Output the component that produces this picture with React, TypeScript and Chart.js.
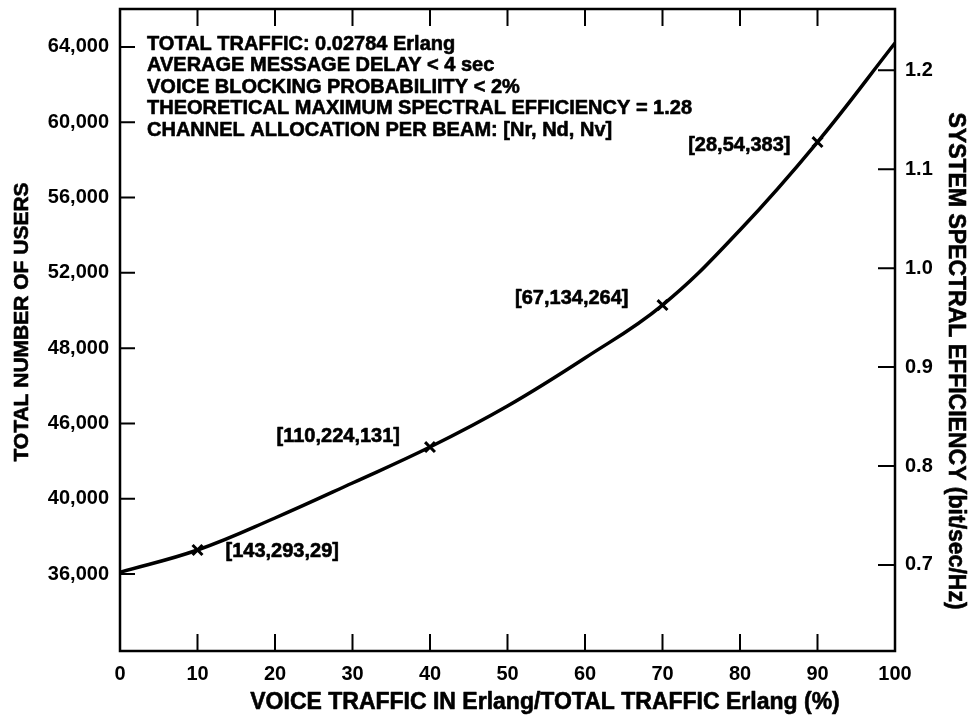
import { useEffect, useRef } from 'react';
import { Chart, registerables } from 'chart.js';

Chart.register(...registerables);

// ---- data ----
const voiceShare = [0, 10, 20, 30, 40, 50, 60, 70, 80, 90, 100];
const totalUsers = [36100, 37280, 38980, 40840, 42750, 44930, 47480, 50290, 54280, 58950, 64210];
const markedShares = [10, 40, 70, 90];
const allocationLabels = ['[143,293,29]', '[110,224,131]', '[67,134,264]', '[28,54,383]'];
const xTickValues = [0, 10, 20, 30, 40, 50, 60, 70, 80, 90, 100];
const userTickValues = [36000, 40000, 44000, 48000, 52000, 56000, 60000, 64000];
const userTickLabels = ['36,000', '40,000', '46,000', '48,000', '52,000', '56,000', '60,000', '64,000'];
const efficiencyTickValues = [0.7, 0.8, 0.9, 1.0, 1.1, 1.2];
const efficiencyTickLabels = ['0.7', '0.8', '0.9', '1.0', '1.1', '1.2'];
const xTitle = 'VOICE TRAFFIC IN Erlang/TOTAL TRAFFIC Erlang (%)';
const leftTitle = 'TOTAL NUMBER OF USERS';
const rightTitle = 'SYSTEM SPECTRAL EFFICIENCY (bit/sec/Hz)';
const infoLines = [
  'TOTAL TRAFFIC: 0.02784 Erlang',
  'AVERAGE MESSAGE DELAY < 4 sec',
  'VOICE BLOCKING PROBABILIITY < 2%',
  'THEORETICAL MAXIMUM SPECTRAL EFFICIENCY = 1.28',
  'CHANNEL ALLOCATION PER BEAM: [Nr, Nd, Nv]',
];

// ---- layout / style (not data) ----
const labelPlacement = [
  { dx: 28, dy: 1, align: 'left' as CanvasTextAlign },
  { dx: -30, dy: -11, align: 'right' as CanvasTextAlign },
  { dx: -34, dy: -7, align: 'right' as CanvasTextAlign },
  { dx: -27, dy: 3, align: 'right' as CanvasTextAlign },
];
const FONT = "'Liberation Sans', Arial, Helvetica, sans-serif";
const INK = '#000';

function heavyText(ctx: CanvasRenderingContext2D, t: string, x: number, y: number) {
  ctx.fillText(t, x, y);
  ctx.strokeText(t, x, y);
}

const framePlugin = {
  id: 'frame',
  afterDraw(chart: any) {
    const { ctx, chartArea: a, scales } = chart;
    const x = scales.x, y = scales.y, y1 = scales.y1;
    ctx.save();
    ctx.strokeStyle = INK;
    ctx.lineCap = 'butt';
    // inward ticks
    ctx.lineWidth = 2;
    ctx.beginPath();
    xTickValues.forEach((v) => {
      const px = x.getPixelForValue(v);
      if (v > 0 && v < 100) {
        ctx.moveTo(px, a.bottom);
        ctx.lineTo(px, a.bottom - 17);
        ctx.moveTo(px, a.top);
        ctx.lineTo(px, a.top + 17);
      }
    });
    userTickValues.forEach((v) => {
      const py = y.getPixelForValue(v);
      ctx.moveTo(a.left, py);
      ctx.lineTo(a.left + 15, py);
    });
    efficiencyTickValues.forEach((v) => {
      const py = y1.getPixelForValue(v);
      ctx.moveTo(a.right, py);
      ctx.lineTo(a.right - 17, py);
    });
    ctx.stroke();
    // frame
    ctx.lineWidth = 2.5;
    ctx.strokeRect(a.left, a.top, a.right - a.left, a.bottom - a.top);

    ctx.fillStyle = INK;
    ctx.lineWidth = 0.6;
    ctx.lineJoin = 'round';
    ctx.textBaseline = 'middle';

    // allocation labels
    ctx.font = `bold 20px ${FONT}`;
    markedShares.forEach((s, i) => {
      const idx = voiceShare.indexOf(s);
      const px = x.getPixelForValue(s);
      const py = y.getPixelForValue(totalUsers[idx]);
      const p = labelPlacement[i];
      ctx.textAlign = p.align;
      heavyText(ctx, allocationLabels[i], px + p.dx, py + p.dy);
    });

    // info block
    ctx.textAlign = 'left';
    infoLines.forEach((t, i) => {
      heavyText(ctx, t, a.left + 27, a.top + 35 + i * 21.5);
    });

    // axis titles
    ctx.textAlign = 'center';
    ctx.font = `bold 23px ${FONT}`;
    heavyText(ctx, xTitle, 545, 703);

    ctx.save();
    ctx.font = `bold 21px ${FONT}`;
    ctx.translate(22, 322);
    ctx.rotate(-Math.PI / 2);
    heavyText(ctx, leftTitle, 0, 0);
    ctx.restore();

    ctx.save();
    ctx.font = `bold 23px ${FONT}`;
    ctx.translate(955, 361);
    ctx.rotate(Math.PI / 2);
    heavyText(ctx, rightTitle, 0, 0);
    ctx.restore();

    ctx.restore();
  },
};

export default function App() {
  const ref = useRef<HTMLCanvasElement | null>(null);
  useEffect(() => {
    if (!ref.current) return;
    const chart = new Chart(ref.current, {
      type: 'line',
      data: {
        datasets: [
          {
            data: voiceShare.map((v, i) => ({ x: v, y: totalUsers[i] })),
            borderColor: INK,
            borderWidth: 3.5,
            tension: 0.4,
            fill: false,
            pointStyle: 'crossRot',
            pointRadius: (c: any) => (markedShares.includes(voiceShare[c.dataIndex]) ? 7 : 0),
            pointBorderWidth: 3,
            pointBorderColor: INK,
            pointBackgroundColor: INK,
            yAxisID: 'y',
          },
        ],
      },
      options: {
        animation: false,
        responsive: false,
        events: [],
        layout: { padding: { top: 9, left: 0, right: 0, bottom: 0 } },
        plugins: { legend: { display: false }, tooltip: { enabled: false } },
        scales: {
          x: {
            type: 'linear',
            min: 0,
            max: 100,
            afterBuildTicks: (s: any) => {
              s.ticks = xTickValues.map((v) => ({ value: v }));
            },
            afterFit: (s: any) => {
              s.height = 73;
              s.paddingLeft = 0;
              s.paddingRight = 0;
            },
            grid: { display: false, drawTicks: false },
            border: { display: false },
            ticks: {
              color: INK,
              padding: 11,
              maxRotation: 0,
              autoSkip: false,
              font: { family: FONT, size: 20, weight: 'bold' },
            },
            title: { display: false },
          },
          y: {
            type: 'linear',
            position: 'left',
            min: 31915,
            max: 66016,
            afterBuildTicks: (s: any) => {
              s.ticks = userTickValues.map((v) => ({ value: v }));
            },
            afterFit: (s: any) => {
              s.width = 120;
              s.paddingTop = 0;
              s.paddingBottom = 0;
            },
            grid: { display: false, drawTicks: false },
            border: { display: false },
            ticks: {
              color: INK,
              padding: 11,
              autoSkip: false,
              font: { family: FONT, size: 20, weight: 'bold' },
              callback: (v: any) => {
                const i = userTickValues.indexOf(Number(v));
                return i >= 0 ? userTickLabels[i] : '';
              },
            },
            title: { display: false },
          },
          y1: {
            type: 'linear',
            position: 'right',
            min: 0.613,
            max: 1.262,
            afterBuildTicks: (s: any) => {
              s.ticks = efficiencyTickValues.map((v) => ({ value: v }));
            },
            afterFit: (s: any) => {
              s.width = 73;
              s.paddingTop = 0;
              s.paddingBottom = 0;
            },
            grid: { display: false, drawTicks: false },
            border: { display: false },
            ticks: {
              color: INK,
              padding: 10,
              autoSkip: false,
              font: { family: FONT, size: 20, weight: 'bold' },
              callback: (v: any) => {
                const i = efficiencyTickValues.findIndex((t) => Math.abs(t - Number(v)) < 1e-6);
                return i >= 0 ? efficiencyTickLabels[i] : '';
              },
            },
            title: { display: false },
          },
        },
      } as any,
      plugins: [framePlugin],
    });
    return () => chart.destroy();
  }, []);
  return (
    <div style={{ position: 'absolute', left: 0, top: 0, width: 968, height: 724, background: '#fff' }}>
      <canvas ref={ref} width={968} height={724} style={{ display: 'block' }} />
    </div>
  );
}
